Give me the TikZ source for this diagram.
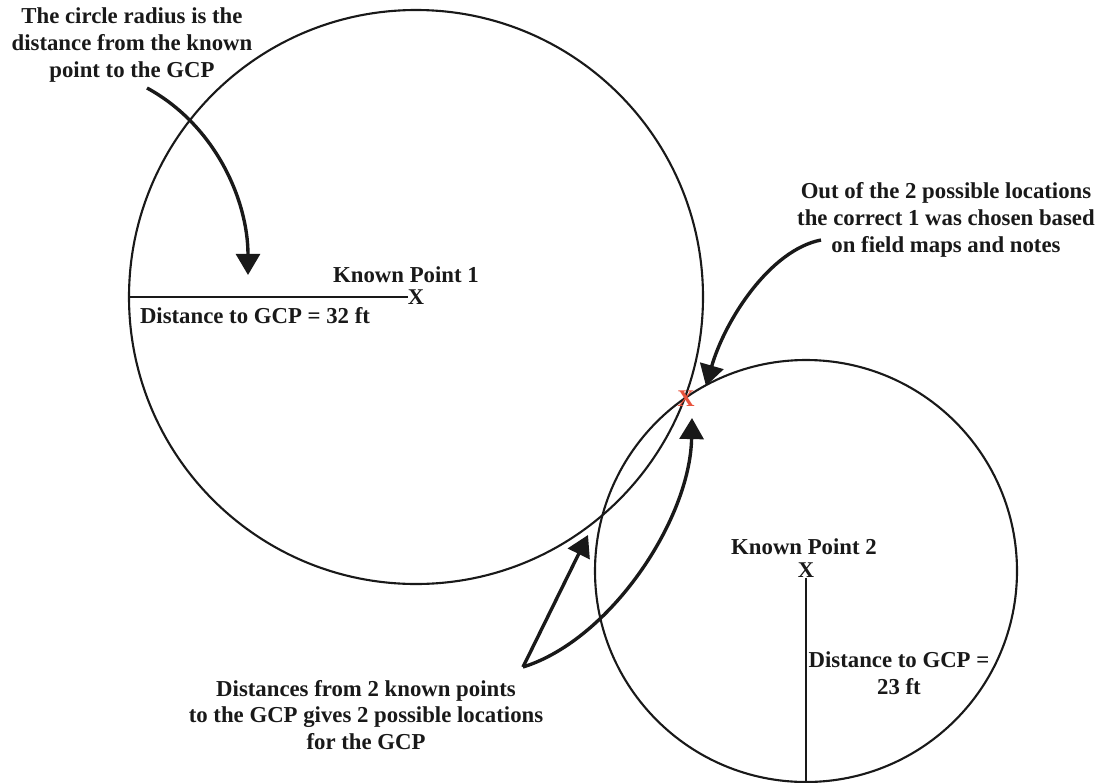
\documentclass[tikz,border=0pt]{standalone}
\usepackage{fontspec}
\setmainfont{Liberation Serif}
\usetikzlibrary{arrows.meta, positioning}

\definecolor{gcpred}{RGB}{232,84,62}

\begin{document}
\begin{tikzpicture}[
    x=0.025cm, y=-0.025cm,
    >={Triangle[length=15pt, width=17pt]},
    font=\fontsize{16.2}{19}\selectfont\bfseries,
    ring/.style={line width=1.5pt, black!90},
    radiusline/.style={line width=1pt, black!90},
    pointer/.style={->, line width=2.4pt, black!90},
    note/.style={align=center, text=black!90, inner sep=0pt},
    xmark/.style={inner sep=0pt, text=black!90,
                  font=\fontsize{16}{19}\selectfont\bfseries},
]
\useasboundingbox (0,0) rectangle (1099,783);

% ---- the two distance circles ----
\coordinate (c1) at (416,297);
\coordinate (c2) at (806,571);
\draw[ring] (c1) circle[radius=287];
\draw[ring] (c2) circle[radius=211];

% ---- known point 1 ----
\node[note] (kp1lbl) at (406,275) {Known Point 1};
\node[xmark] (kp1) at (c1) {X};
\coordinate (c1left) at (129,297);
\draw[radiusline] (c1left) -- (kp1.west);
\node[note] (d1lbl) at (255,316) {Distance to GCP = 32 ft};

% ---- known point 2 ----
\node[note] (kp2lbl) at (804,547) {Known Point 2};
\node[xmark] (kp2) at (806,570) {X};
\coordinate (c2bottom) at (806,783);
\draw[radiusline] (kp2.south) -- (c2bottom);
\node[note] (d2lbl) at (899,673) {Distance to GCP =\\23 ft};

% ---- chosen GCP location ----
\node[xmark, text=gcpred, font=\fontsize{17}{19}\selectfont\bfseries]
  (gcp) at (686,399) {X};

% ---- notes ----
\node[note] (radiusnote) at (132,45)
  {The circle radius is the\\distance from the known\\point to the GCP};
\node[note] (choicenote) at (946,220)
  {Out of the 2 possible locations\\the correct 1 was chosen based\\on field maps and notes};
\node[note] (twonote) at (366,715)
  {Distances from 2 known points\\to the GCP gives 2 possible locations\\for the GCP};

% ---- pointer ends ----
\coordinate (radiustail) at (147,88);
\coordinate (radiustip)  at (248,275);
\coordinate (choicetail) at (821,240);
\coordinate (choicetip)  at (706,386);
\coordinate (twotail)    at (523,667);
\coordinate (othertip)   at (588,535);
\coordinate (gcptip)     at (692,418);

% ---- pointers ----
\draw[pointer] (radiustail) .. controls (215,125) and (248,200) .. (radiustip);
\draw[pointer] (choicetail) .. controls (770,250) and (725,320) .. (choicetip);
\draw[pointer] (twotail) -- (othertip);
\draw[pointer] (twotail) .. controls (610,640) and (690,520) .. (gcptip);

\end{tikzpicture}
\end{document}
